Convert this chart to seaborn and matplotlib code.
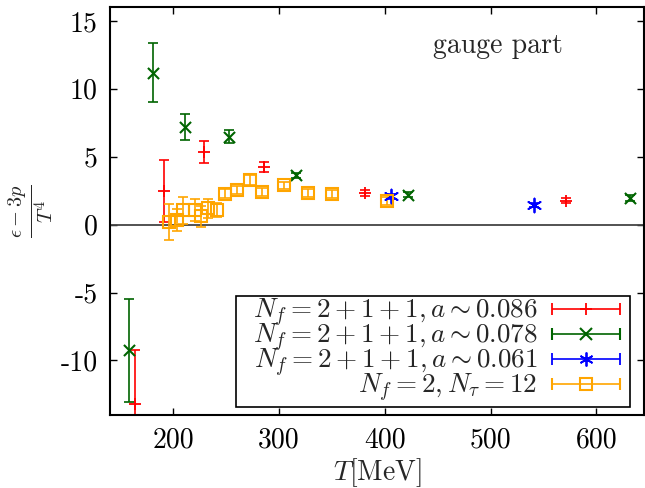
import numpy as np
import pandas as pd
import matplotlib
matplotlib.use("Agg")
import matplotlib.pyplot as plt
from matplotlib.container import ErrorbarContainer
from matplotlib.legend_handler import HandlerErrorbar
from matplotlib.patches import Rectangle
import seaborn as sns

# data (T in MeV, (e-3p)/T^4 and its error)
T_086 = [164, 191, 229, 286, 381, 571]
V_086 = [-13.2, 2.5, 5.35, 4.23, 2.34, 1.77]
E_086 = [3.95, 2.28, 0.83, 0.37, 0.2, 0.2]

T_078 = [158, 181, 211, 253, 316, 422, 632]
V_078 = [-9.25, 11.2, 7.2, 6.47, 3.62, 2.21, 1.97]
E_078 = [3.78, 2.2, 0.95, 0.48, 0.2, 0.2, 0.2]

T_061 = [406, 541]
V_061 = [2.09, 1.48]
E_061 = [0.2, 0.15]

T_nf2 = [196, 203.5, 209.5, 220, 226, 233, 241, 248.5, 260, 272, 284, 305, 327, 350, 401.5]
V_nf2 = [0.2, 0.35, 1.06, 1.07, 0.61, 1.2, 1.08, 2.29, 2.55, 3.3, 2.41, 2.9, 2.34, 2.24, 1.72]
E_nf2 = [1.35, 0.8, 1.0, 0.8, 0.75, 0.7, 0.5, 0.3, 0.3, 0.35, 0.3, 0.25, 0.3, 0.3, 0.3]

labels = [r"$N_f=2+1+1, a\sim 0.086$",
          r"$N_f=2+1+1, a\sim 0.078$",
          r"$N_f=2+1+1, a\sim 0.061$",
          r"$N_f=2, N_\tau=12$"]

sns.set_theme(style="ticks")
plt.rcParams["font.family"] = ["cmr10", "DejaVu Serif"]
plt.rcParams["mathtext.fontset"] = "cm"
plt.rcParams["axes.unicode_minus"] = False
plt.rcParams["axes.formatter.use_mathtext"] = True

series = [
    (T_086, V_086, E_086, "#ff0000", "+", 9, 1.3),
    (T_078, V_078, E_078, "#006400", "x", 8, 1.5),
    (T_061, V_061, E_061, "#0000ff", (6, 2, 0), 10, 1.3),
    (T_nf2, V_nf2, E_nf2, "#ffa500", "s", 9, 1.5),
]

fig = plt.figure(figsize=(6.45, 4.88), dpi=100)
ax = fig.add_axes([0.1705, 0.150, 0.828, 0.835])

ax.axhline(0, color="#444444", lw=1.3, zorder=1)

for (t, v, e, col, mk, ms, mew), lab in zip(series, labels):
    df = pd.DataFrame({"T": t, "V": v, "E": e})
    ax.errorbar(df["T"], df["V"], yerr=df["E"], fmt="none", ecolor=col,
                elinewidth=1.2, capsize=3.5, capthick=1.2, zorder=2)
    if mk == "s":
        ax.plot(df["T"], df["V"], ls="none", marker="s", ms=ms, mfc="none",
                mec=col, mew=mew, zorder=3)
    else:
        sns.scatterplot(data=df, x="T", y="V", marker=mk, color=col,
                        s=ms ** 2, linewidth=mew, ax=ax, zorder=3, legend=False)
    # legend proxy with horizontal error bar sample
    ax.errorbar([np.nan], [np.nan], xerr=[1], linestyle="none", marker=mk,
                color=col, ms=ms, mfc="none" if mk == "s" else col, mec=col,
                mew=mew, elinewidth=1.2, capsize=4.5, capthick=1.2, label=lab)

ax.set_xlim(140, 645)
ax.set_ylim(-14, 16)
ax.set_xticks([200, 300, 400, 500, 600])
ax.set_yticks([-10, -5, 0, 5, 10, 15])
ax.set_yticklabels(["-10", "-5", "0", "5", "10", "15"])
ax.set_xticklabels(["200", "300", "400", "500", "600"])
ax.tick_params(direction="in", top=True, right=True, length=5, width=1,
               labelsize=20, colors="black", pad=9)
for sp in ax.spines.values():
    sp.set_linewidth(1.5)
    sp.set_color("black")

ax.set_xlabel(r"$T[\mathrm{MeV}]$", fontsize=20, labelpad=2)
ax.set_ylabel(r"$\frac{\epsilon-3p}{T^4}$", fontsize=21, labelpad=4)
ax.text(0.605, 0.905, "gauge part", transform=ax.transAxes, fontsize=20,
        ha="left", va="center")

# legend box drawn separately (gnuplot-like key frame)
ax.add_patch(Rectangle((0.236, 0.019), 0.738, 0.272, transform=ax.transAxes,
                       facecolor="white", edgecolor="black", lw=1.2, zorder=4))
leg = ax.legend(loc="lower right", bbox_to_anchor=(0.955, 0.026),
                borderaxespad=0, markerfirst=False, fontsize=19.5,
                handlelength=2.5, handletextpad=0.55, labelspacing=-0.26,
                frameon=False, borderpad=0,
                handler_map={ErrorbarContainer: HandlerErrorbar(xerr_size=1.25)})
leg.set_zorder(5)

fig.savefig("out.png", dpi=100)
